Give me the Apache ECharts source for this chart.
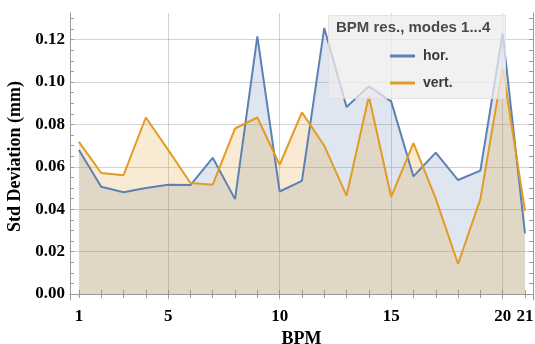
<!DOCTYPE html>
<html>
<head>
<meta charset="utf-8">
<script src="https://cdn.jsdelivr.net/npm/echarts@6/dist/echarts.min.js"></script>
<style>
  html, body { margin: 0; padding: 0; background: #ffffff; }
  #chart { width: 535px; height: 344px; }
</style>
</head>
<body>
<div id="chart"></div>
<script>
// BPM index
const bpm = [1, 2, 3, 4, 5, 6, 7, 8, 9, 10, 11, 12, 13, 14, 15, 16, 17, 18, 19, 20, 21];
// std deviation (mm)
const horValues = [0.068, 0.0506, 0.048, 0.050, 0.0516, 0.0514, 0.0643, 0.0448, 0.1216, 0.0484, 0.0534,
  0.1255, 0.0883, 0.098, 0.0909, 0.0555, 0.0667, 0.0538, 0.0582, 0.123, 0.0286];
const vertValues = [0.0718, 0.0571, 0.0561, 0.0833, 0.068, 0.0524, 0.0516, 0.0781, 0.0833, 0.061, 0.0857,
  0.070, 0.0464, 0.0933, 0.0459, 0.0712, 0.045, 0.0142, 0.0448, 0.1066, 0.0393];
const xTickLabels = [1, 5, 10, 15, 20, 21];
const xGridValues = [5, 10, 15, 20];
const yTickLabels = [0, 0.02, 0.04, 0.06, 0.08, 0.10, 0.12];
const yGridValues = [0.02, 0.04, 0.06, 0.08, 0.10, 0.12];
const yMinorTicks = [0, 0.005, 0.01, 0.015, 0.02, 0.025, 0.03, 0.035, 0.04, 0.045, 0.05, 0.055, 0.06,
  0.065, 0.07, 0.075, 0.08, 0.085, 0.09, 0.095, 0.10, 0.105, 0.11, 0.115, 0.12, 0.125, 0.13];

const colors = {
  blue: '#5E81B5',
  orange: '#E19C24',
  frame: '#9a9a9a',
  grid: 'rgba(110,110,110,0.3)',
  text: '#000000',
};
const serif = '"Liberation Serif", "DejaVu Serif", serif';
const sans = '"Liberation Sans", "DejaVu Sans", sans-serif';

const xMin = 0.6, xMax = 21.36;
const yMin = -0.0028, yMax = 0.1326;

const chart = echarts.init(document.getElementById('chart'));

const frameAxisLine = { show: true, lineStyle: { color: colors.frame, width: 1 } };
const xTick = { show: true, inside: true, length: 4, customValues: bpm, lineStyle: { color: colors.frame } };
const yTick = { show: true, inside: true, length: 4, customValues: yMinorTicks, lineStyle: { color: colors.frame } };
const hidden = { show: false };
const gridLine = { show: true, lineStyle: { color: colors.grid, width: 1 } };

const toPairs = vals => vals.map((v, i) => [bpm[i], v]);

// area fill (below) + line (above) so both lines sit on top of both fills
const areaSeries = (name, vals, color, z) => ({
  name: name + ' fill', type: 'line', data: toPairs(vals),
  symbol: 'none', lineStyle: { width: 0 },
  areaStyle: { color: color, opacity: 0.2 },
  silent: true, z: z,
});
const lineSeries = (name, vals, color, z) => ({
  name: name, type: 'line', data: toPairs(vals),
  symbol: 'none', color: color,
  lineStyle: { width: 2, color: color },
  z: z,
});

const option = {
  animation: false,
  grid: { left: 70, right: 2, top: 13, bottom: 44, outerBoundsMode: 'none' },
  xAxis: [
    {
      type: 'value', position: 'bottom', min: xMin, max: xMax,
      axisLine: frameAxisLine,
      axisTick: xTick,
      axisLabel: {
        customValues: xTickLabels, margin: 8,
        fontFamily: serif, fontWeight: 'bold', fontSize: 17, color: colors.text,
      },
      splitLine: hidden,
      name: 'BPM', nameLocation: 'middle', nameGap: 30,
      nameTextStyle: { fontFamily: serif, fontWeight: 'bold', fontSize: 18, color: colors.text },
    },
    {
      type: 'value', position: 'top', min: xMin, max: xMax,
      axisLine: frameAxisLine,
      axisTick: xTick,
      axisLabel: hidden,
      splitLine: hidden,
    },
    {
      // grid lines only
      type: 'value', position: 'bottom', min: xMin, max: xMax,
      axisLine: hidden, axisLabel: hidden,
      axisTick: { show: false, customValues: xGridValues },
      splitLine: gridLine,
    },
  ],
  yAxis: [
    {
      type: 'value', position: 'left', min: yMin, max: yMax,
      axisLine: frameAxisLine,
      axisTick: yTick,
      axisLabel: {
        customValues: yTickLabels, margin: 5,
        formatter: v => v.toFixed(2),
        fontFamily: serif, fontWeight: 'bold', fontSize: 17, color: colors.text,
      },
      splitLine: hidden,
      name: 'Std Deviation (mm)', nameLocation: 'middle', nameGap: 41, nameRotate: 90,
      nameTextStyle: { fontFamily: serif, fontWeight: 'bold', fontSize: 18, color: colors.text },
    },
    {
      type: 'value', position: 'right', min: yMin, max: yMax,
      axisLine: frameAxisLine,
      axisTick: yTick,
      axisLabel: hidden,
      splitLine: hidden,
    },
    {
      // grid lines only
      type: 'value', position: 'left', min: yMin, max: yMax,
      axisLine: hidden, axisLabel: hidden,
      axisTick: { show: false, customValues: yGridValues },
      splitLine: gridLine,
    },
  ],
  legend: {
    orient: 'vertical',
    left: 385, top: 44,
    itemWidth: 25, itemHeight: 3, itemGap: 13,
    icon: 'rect',
    textStyle: { fontFamily: sans, fontWeight: 'bold', fontSize: 14, color: '#3a3a3a', padding: [0, 0, 0, 3] },
    data: ['hor.', 'vert.'],
    z: 20,
  },
  graphic: [
    {
      type: 'rect', left: 328, top: 15, z: 10,
      shape: { width: 177, height: 83 },
      style: { fill: 'rgba(236,236,236,0.75)', stroke: 'rgba(222,222,222,0.8)', lineWidth: 1 },
    },
    {
      type: 'text', left: 336, top: 20, z: 11,
      style: { text: 'BPM res., modes 1...4', font: 'bold 15px ' + sans, fill: '#4a4a4a' },
    },
  ],
  series: [
    areaSeries('hor.', horValues, colors.blue, 2),
    areaSeries('vert.', vertValues, colors.orange, 3),
    lineSeries('hor.', horValues, colors.blue, 5),
    lineSeries('vert.', vertValues, colors.orange, 6),
  ],
};

chart.setOption(option);
</script>
</body>
</html>
